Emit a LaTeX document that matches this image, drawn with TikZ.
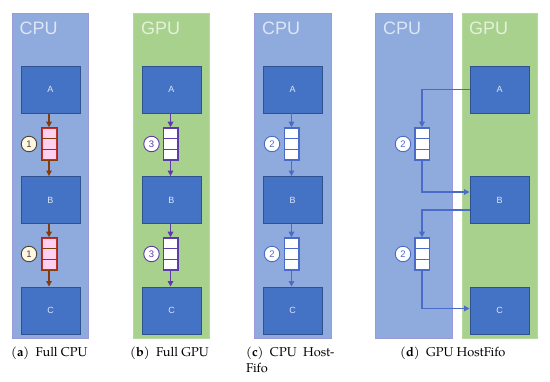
\documentclass[tikz,border=0pt]{standalone}
\usepackage{fontspec}
\setmainfont{Liberation Sans}
\newfontfamily\capfont{TeX Gyre Pagella}
\usetikzlibrary{arrows.meta,calc}
\definecolor{cpubg}{HTML}{8FAADC}
\definecolor{cpuedge}{HTML}{9A9ADA}
\definecolor{gpubg}{HTML}{A9D18E}
\definecolor{gpuedge}{HTML}{B5D89E}
\definecolor{cputitle}{HTML}{DCE6F6}
\definecolor{gputitle}{HTML}{E4F1DA}
\definecolor{boxfill}{HTML}{4472C4}
\definecolor{boxedge}{HTML}{2F528F}
\definecolor{boxtext}{HTML}{DDE6F5}
\definecolor{brownarr}{HTML}{843C0C}
\definecolor{fifored}{HTML}{C0302A}
\definecolor{fifopink}{HTML}{FFD0F0}
\definecolor{purp}{HTML}{5B3CA8}
\definecolor{bluearr}{HTML}{4A6CC8}
\definecolor{cream}{HTML}{FFF7E4}
\definecolor{olive}{HTML}{4A4530}
\tikzset{
  cpupanel/.style={fill=cpubg,draw=cpuedge,line width=0.8pt},
  gpupanel/.style={fill=gpubg,draw=gpuedge,line width=0.8pt},
  ptitle/.style={font=\fontsize{18}{18}\selectfont,anchor=base west,inner sep=0pt},
  proc/.style={rectangle,fill=boxfill,draw=boxedge,line width=0.9pt,minimum width=59pt,minimum height=47pt,inner sep=0pt,text=boxtext,font=\fontsize{9}{10}\selectfont},
  fifobox/.style={rectangle,minimum width=14.5pt,minimum height=32pt,inner sep=0pt,line width=1.5pt},
  numc/.style={circle,minimum size=15.5pt,inner sep=0pt,line width=0.9pt,font=\fontsize{9.5}{10}\selectfont},
  arr/.style={line width=1.2pt,-{Triangle[length=5.5pt,width=5.5pt]}},
  captext/.style={font=\capfont\fontsize{12.8}{14}\selectfont,anchor=base west,inner sep=0pt},
}
\newcommand{\fifocells}[2]{%
  \draw[#2,line width=1.4pt] ($(#1.north west)!0.3333!(#1.south west)$) -- ($(#1.north east)!0.3333!(#1.south east)$);
  \draw[#2,line width=1.4pt] ($(#1.north west)!0.6667!(#1.south west)$) -- ($(#1.north east)!0.6667!(#1.south east)$);}
\begin{document}
\begin{tikzpicture}[x=1pt,y=-1pt]
\useasboundingbox (0,0) rectangle (550,382);
\fill[white] (0,0) rectangle (550,382);
% panels
\draw[cpupanel] (12,13) rectangle (88,338);
\draw[gpupanel] (133,13) rectangle (209,338);
\draw[cpupanel] (254,13) rectangle (331,338);
\draw[cpupanel] (375,13) rectangle (452,338);
\draw[gpupanel] (462,13) rectangle (537,338);
\node[ptitle,text=cputitle] (ta) at (19.5,35) {CPU};
\node[ptitle,text=gputitle] (tb) at (141,35) {GPU};
\node[ptitle,text=cputitle] (tc) at (262,35) {CPU};
\node[ptitle,text=cputitle] (td1) at (383,35) {CPU};
\node[ptitle,text=gputitle] (td2) at (469,35) {GPU};
% (a) full CPU
\node[proc] (aA) at (50.5,89.5) {A};
\node[proc] (aB) at (50.5,200) {B};
\node[proc] (aC) at (50.5,310.5) {C};
\node[fifobox,fill=fifopink,draw=fifored] (af1) at (49,144) {};
\fifocells{af1}{brownarr}
\node[fifobox,fill=fifopink,draw=fifored] (af2) at (49,254) {};
\fifocells{af2}{brownarr}
\draw[brownarr,line width=0.6pt] (af1.north west) rectangle (af1.south east);
\draw[brownarr,line width=0.6pt] (af2.north west) rectangle (af2.south east);
\node[numc,fill=cream,draw=olive,text=olive] (an1) at (29,144) {1};
\node[numc,fill=cream,draw=olive,text=olive] (an2) at (29,254) {1};
\draw[arr,brownarr] (aA.south -| af1.north) -- (af1.north);
\draw[arr,brownarr] (af1.south) -- (af1.south |- aB.north);
\draw[arr,brownarr] (aB.south -| af2.north) -- (af2.north);
\draw[arr,brownarr] (af2.south) -- (af2.south |- aC.north);
% (b) full GPU
\node[proc] (bA) at (171.5,89.5) {A};
\node[proc] (bB) at (171.5,200) {B};
\node[proc] (bC) at (171.5,310.5) {C};
\node[fifobox,fill=white,draw=purp] (bf1) at (170.5,144) {};
\fifocells{bf1}{purp}
\node[fifobox,fill=white,draw=purp] (bf2) at (170.5,254) {};
\fifocells{bf2}{purp}
\node[numc,fill=white,draw=purp,text=purp] (bn1) at (151.5,144) {3};
\node[numc,fill=white,draw=purp,text=purp] (bn2) at (151.5,254) {3};
\draw[arr,purp] (bA.south -| bf1.north) -- (bf1.north);
\draw[arr,purp] (bf1.south) -- (bf1.south |- bB.north);
\draw[arr,purp] (bB.south -| bf2.north) -- (bf2.north);
\draw[arr,purp] (bf2.south) -- (bf2.south |- bC.north);
% (c) CPU HostFifo
\node[proc] (cA) at (292.5,89.5) {A};
\node[proc] (cB) at (292.5,200) {B};
\node[proc] (cC) at (292.5,310.5) {C};
\node[fifobox,fill=white,draw=bluearr] (cf1) at (291.5,144) {};
\fifocells{cf1}{bluearr}
\node[fifobox,fill=white,draw=bluearr] (cf2) at (291.5,254) {};
\fifocells{cf2}{bluearr}
\node[numc,fill=white,draw=bluearr,text=bluearr] (cn1) at (272,144) {2};
\node[numc,fill=white,draw=bluearr,text=bluearr] (cn2) at (272,254) {2};
\draw[arr,bluearr] (cA.south -| cf1.north) -- (cf1.north);
\draw[arr,bluearr] (cf1.south) -- (cf1.south |- cB.north);
\draw[arr,bluearr] (cB.south -| cf2.north) -- (cf2.north);
\draw[arr,bluearr] (cf2.south) -- (cf2.south |- cC.north);
% (d) GPU HostFifo
\node[proc] (dA) at (499.5,89.5) {A};
\node[proc] (dB) at (499.5,200) {B};
\node[proc] (dC) at (499.5,310.5) {C};
\node[fifobox,fill=white,draw=bluearr] (df1) at (422,144) {};
\fifocells{df1}{bluearr}
\node[fifobox,fill=white,draw=bluearr] (df2) at (422,254) {};
\fifocells{df2}{bluearr}
\node[numc,fill=white,draw=bluearr,text=bluearr] (dn1) at (403,144) {2};
\node[numc,fill=white,draw=bluearr,text=bluearr] (dn2) at (403,254) {2};
\draw[arr,bluearr] (dA.west) -| (df1.north);
\draw[arr,bluearr] (df1.south) |- ([yshift=8pt]dB.west);
\draw[arr,bluearr] ([yshift=-10pt]dB.west) -| (df2.north);
\draw[arr,bluearr] (df2.south) |- ([yshift=2pt]dC.west);
% captions
\node[captext] (capa) at (11,357) {({\bfseries a})\ \ Full CPU};
\node[captext] (capb) at (130,357) {({\bfseries b})\ \ Full GPU};
\node[captext] (capc) at (246,357) {({\bfseries c})\ \ CPU\ \ Host-};
\node[captext] (capc2) at (246,373) {Fifo};
\node[captext] (capd) at (400,357) {({\bfseries d})\ \ GPU HostFifo};
\end{tikzpicture}
\end{document}
